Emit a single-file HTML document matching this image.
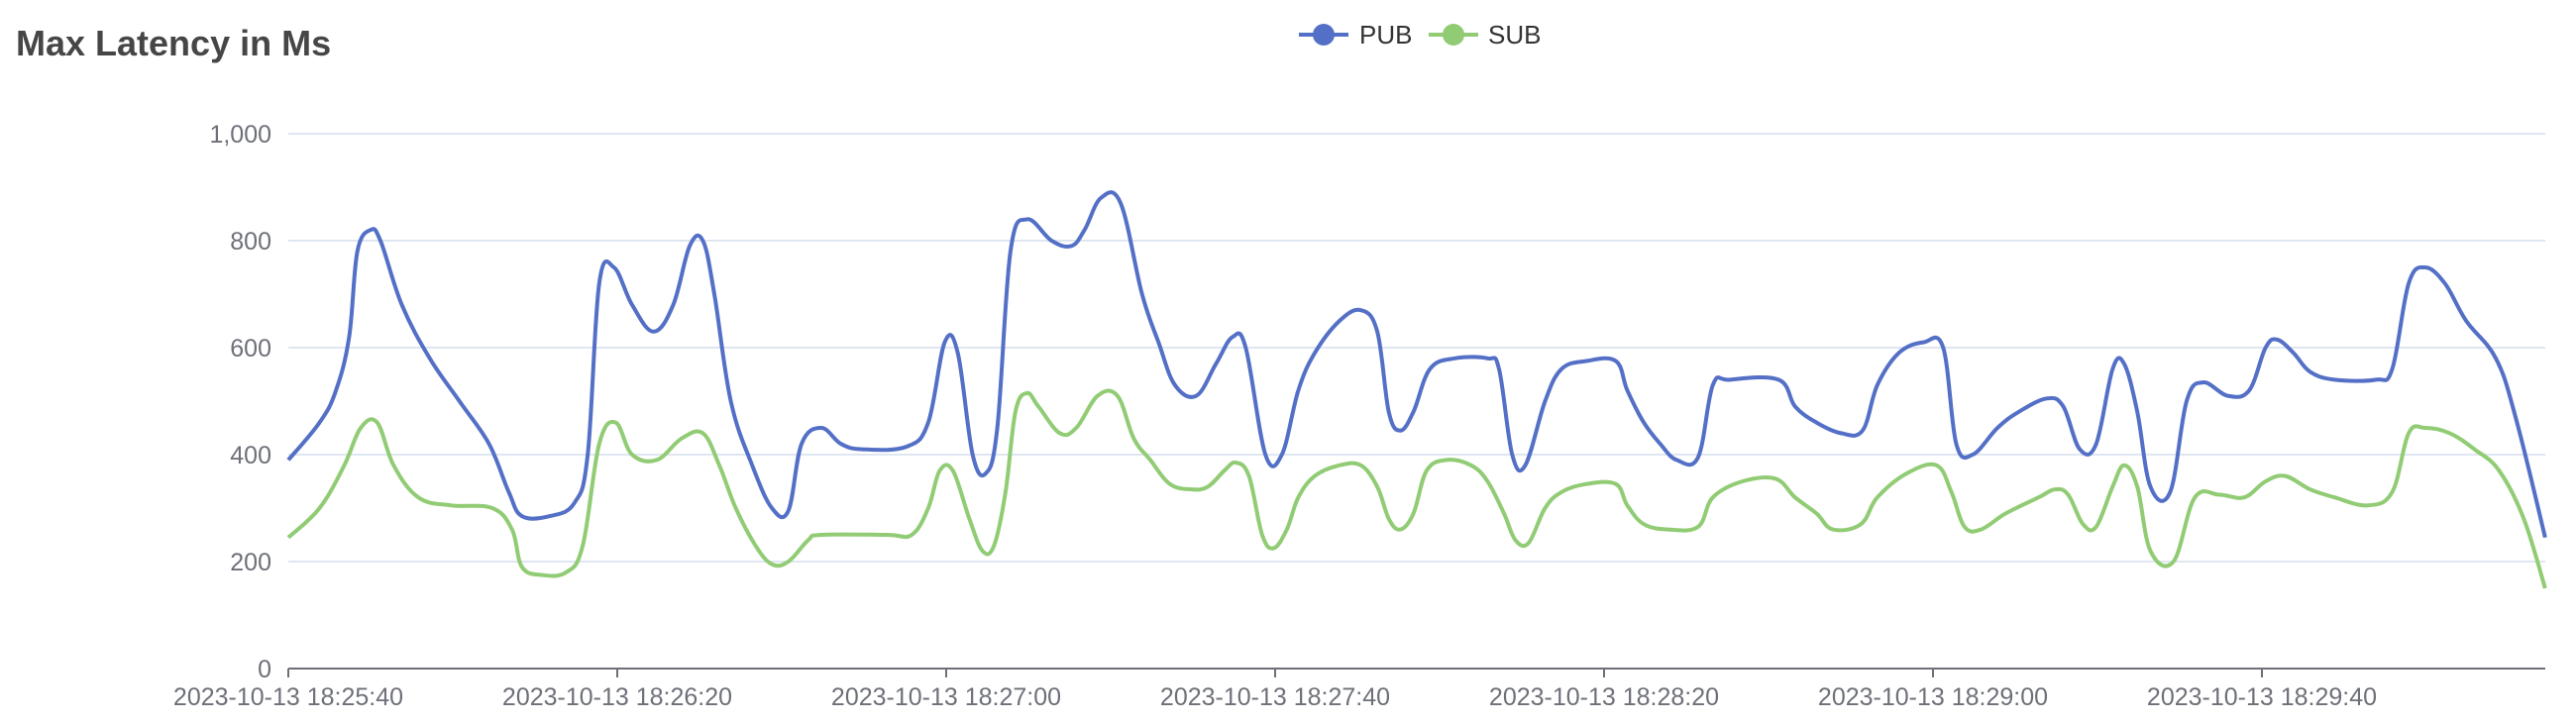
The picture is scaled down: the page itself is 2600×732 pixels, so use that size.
<!DOCTYPE html>
<html><head><meta charset="utf-8"><style>
html,body{margin:0;padding:0;background:#fff;}
svg{display:block;font-family:"Liberation Sans",Arial,sans-serif;}
</style></head><body>
<svg id="s" width="2600" height="732" viewBox="0 0 2600 732" xmlns="http://www.w3.org/2000/svg">
<text x="16" y="56" font-size="36" font-weight="bold" fill="#464646">Max Latency in Ms</text>
<line x1="1311" y1="35" x2="1361" y2="35" stroke="#5470c6" stroke-width="4"/>
<circle cx="1336" cy="35" r="11" fill="#5470c6"/>
<text x="1372" y="44" font-size="26" fill="#333">PUB</text>
<line x1="1442" y1="35" x2="1492" y2="35" stroke="#91cc75" stroke-width="4"/>
<circle cx="1467" cy="35" r="11" fill="#91cc75"/>
<text x="1502" y="44" font-size="26" fill="#333">SUB</text>
<g stroke="#e0e6f1" stroke-width="2">
<line x1="291" y1="135" x2="2569" y2="135"/>
<line x1="291" y1="243" x2="2569" y2="243"/>
<line x1="291" y1="351" x2="2569" y2="351"/>
<line x1="291" y1="459" x2="2569" y2="459"/>
<line x1="291" y1="567" x2="2569" y2="567"/>
</g>
<g font-size="25" fill="#6e7079" text-anchor="end">
<text x="274" y="144">1,000</text>
<text x="274" y="252">800</text>
<text x="274" y="360">600</text>
<text x="274" y="468">400</text>
<text x="274" y="576">200</text>
<text x="274" y="684">0</text>
</g>
<line x1="291" y1="675" x2="2569" y2="675" stroke="#6e7079" stroke-width="2"/>
<g id="ticks" stroke="#6e7079" stroke-width="2"></g>
<g id="xl" font-size="25" fill="#6e7079" text-anchor="middle"></g>
<path id="pub" fill="none" stroke="#5470c6" stroke-width="4" stroke-linejoin="round"/>
<path id="sub" fill="none" stroke="#91cc75" stroke-width="4" stroke-linejoin="round"/>
</svg>
<script>
var NS="http://www.w3.org/2000/svg";
var labels=["18:25:40","18:26:20","18:27:00","18:27:40","18:28:20","18:29:00","18:29:40"];
var tg=document.getElementById("ticks"),xg=document.getElementById("xl");
for(var i=0;i<7;i++){var x=291+i*332;
var l=document.createElementNS(NS,"line");l.setAttribute("x1",x);l.setAttribute("x2",x);l.setAttribute("y1",675);l.setAttribute("y2",684);tg.appendChild(l);
var t=document.createElementNS(NS,"text");t.setAttribute("x",x);t.setAttribute("y",712);t.textContent="2023-10-13 "+labels[i];xg.appendChild(t);}
var pub=[176,390,195,460,205,520,213,620,218,780,226,820,232,800,245,680,262,580,280,500,298,420,310,330,318,285,335,285,350,310,358,400,365,720,374,750,385,680,398,630,410,680,420,790,428,800,435,700,445,500,458,380,470,300,480,295,488,420,500,450,512,420,525,410,552,415,565,460,575,610,583,590,592,400,600,365,607,450,615,780,625,840,640,800,652,790,660,820,670,880,682,870,695,700,705,610,715,530,728,510,740,570,750,620,758,600,770,400,780,400,790,520,800,590,815,650,828,670,838,630,845,480,852,445,860,480,870,560,885,580,905,580,912,560,920,400,928,380,940,500,950,560,965,575,983,575,990,520,1000,460,1010,420,1020,390,1033,395,1042,530,1052,540,1082,540,1092,490,1105,460,1120,440,1133,445,1142,530,1155,590,1170,610,1182,600,1190,420,1200,400,1215,450,1228,480,1245,505,1255,490,1265,410,1275,420,1285,560,1292,570,1300,480,1308,340,1320,330,1330,500,1340,535,1355,510,1368,520,1378,600,1385,615,1395,590,1405,555,1420,540,1445,540,1455,560,1465,720,1475,750,1487,720,1500,650,1518,580,1530,470,1548,245];
var sub=[176,245,195,300,210,380,220,450,230,460,240,380,255,320,275,305,300,300,312,260,318,190,330,175,345,180,355,230,365,420,375,460,385,400,400,390,415,430,428,440,438,380,448,300,460,230,470,195,480,200,492,240,500,250,540,250,555,250,565,300,572,370,580,370,590,280,598,220,605,230,612,330,618,480,625,515,632,490,645,440,655,450,668,510,680,510,690,430,700,390,712,345,725,335,735,340,745,370,752,385,760,360,768,250,775,225,783,260,790,320,800,360,815,380,828,380,838,340,845,280,852,260,860,290,868,370,880,390,895,380,905,350,915,290,922,240,930,235,940,300,950,330,965,345,983,345,990,305,1000,270,1015,260,1033,265,1042,320,1060,350,1080,355,1092,320,1105,290,1115,260,1132,270,1142,320,1160,365,1178,380,1187,330,1195,265,1205,260,1220,290,1240,320,1250,335,1258,325,1267,270,1275,265,1285,340,1292,380,1300,340,1308,220,1322,200,1335,320,1350,325,1365,320,1378,350,1390,360,1405,335,1420,320,1440,305,1455,330,1465,440,1475,450,1490,440,1505,410,1520,370,1535,280,1548,150];
function build(a){var p=[];for(var i=0;i<a.length;i+=2)p.push([291+(a[i]-176)*1.6603,675-a[i+1]*0.54]);
var d="M"+p[0][0].toFixed(1)+","+p[0][1].toFixed(1);var k=0.18;
for(var i=0;i<p.length-1;i++){var p0=p[Math.max(0,i-1)],p1=p[i],p2=p[i+1],p3=p[Math.min(p.length-1,i+2)];
var c1x=p1[0]+(p2[0]-p0[0])*k,c1y=p1[1]+(p2[1]-p0[1])*k,c2x=p2[0]-(p3[0]-p1[0])*k,c2y=p2[1]-(p3[1]-p1[1])*k;
d+="C"+c1x.toFixed(1)+","+c1y.toFixed(1)+" "+c2x.toFixed(1)+","+c2y.toFixed(1)+" "+p2[0].toFixed(1)+","+p2[1].toFixed(1);}
return d;}
document.getElementById("pub").setAttribute("d",build(pub));
document.getElementById("sub").setAttribute("d",build(sub));
</script>
</body></html>
